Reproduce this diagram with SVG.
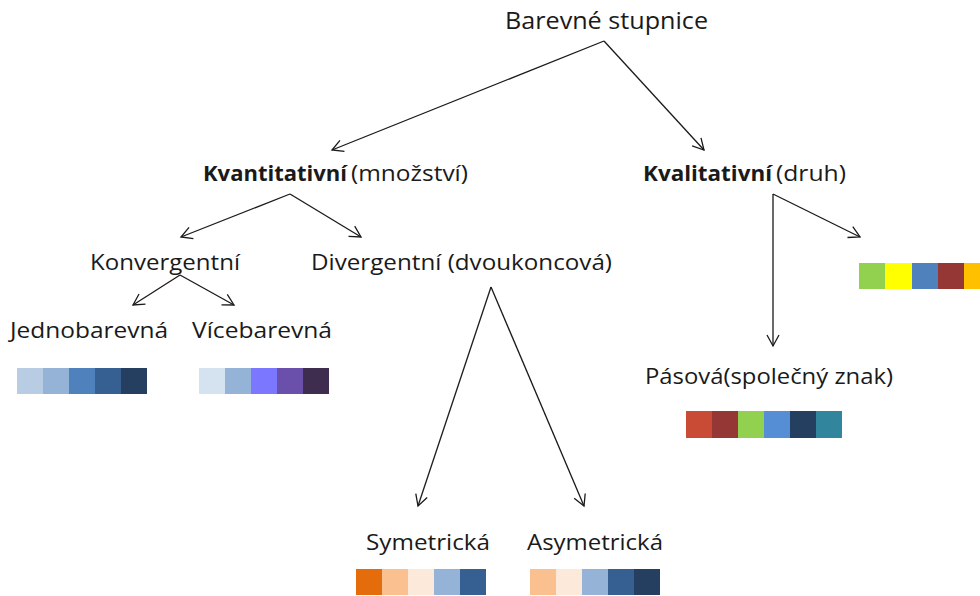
<svg xmlns="http://www.w3.org/2000/svg" width="980" height="596" viewBox="0 0 980 596">
<defs>
<style>
text{font-family:"Open Sans","Noto Sans","Liberation Sans",sans-serif;fill:#1a1a1a;font-size:22px}
.b{font-weight:bold}
.t{font-size:24px}
.c line{stroke:#1a1a1a;stroke-width:1.3;fill:none}
</style>
<marker id="a" markerWidth="14" markerHeight="14" refX="12" refY="7" orient="auto" markerUnits="userSpaceOnUse">
<path d="M1,1 L12,7 L1,13" fill="none" stroke="#1a1a1a" stroke-width="1.3"/>
</marker>
</defs>
<rect width="980" height="596" fill="#fff"/>
<g class="c" id="connectors">
<line x1="604" y1="41" x2="332" y2="150" marker-end="url(#a)"/>
<line x1="604" y1="41" x2="704" y2="150" marker-end="url(#a)"/>
<line x1="290" y1="194" x2="181" y2="237" marker-end="url(#a)"/>
<line x1="290" y1="194" x2="361" y2="237" marker-end="url(#a)"/>
<line x1="180" y1="275" x2="133" y2="305" marker-end="url(#a)"/>
<line x1="180" y1="275" x2="234" y2="305" marker-end="url(#a)"/>
<line x1="491" y1="287" x2="418" y2="506" marker-end="url(#a)"/>
<line x1="491" y1="287" x2="584" y2="506" marker-end="url(#a)"/>
<line x1="773" y1="194" x2="773" y2="346" marker-end="url(#a)"/>
<line x1="773" y1="194" x2="860" y2="237" marker-end="url(#a)"/>
</g>
<g id="root"><text class="t" x="505" y="29" textLength="203" lengthAdjust="spacingAndGlyphs">Barevné stupnice</text></g>
<g id="kvantitativni">
<text class="b" x="203" y="181" textLength="144" lengthAdjust="spacingAndGlyphs">Kvantitativní</text>
<text x="351" y="181" textLength="117" lengthAdjust="spacingAndGlyphs">(množství)</text>
</g>
<g id="kvalitativni">
<text class="b" x="643" y="181" textLength="129" lengthAdjust="spacingAndGlyphs">Kvalitativní</text>
<text x="776" y="181" textLength="70" lengthAdjust="spacingAndGlyphs">(druh)</text>
</g>
<g id="konvergentni"><text x="90" y="270" textLength="150" lengthAdjust="spacingAndGlyphs">Konvergentní</text></g>
<g id="divergentni"><text x="311" y="270" textLength="301" lengthAdjust="spacingAndGlyphs">Divergentní (dvoukoncová)</text></g>
<g id="jednobarevna">
<text x="10" y="338" textLength="158" lengthAdjust="spacingAndGlyphs">Jednobarevná</text>
<rect x="17" y="368" width="26" height="26" fill="#b8cce4"/>
<rect x="43" y="368" width="26" height="26" fill="#95b3d7"/>
<rect x="69" y="368" width="26" height="26" fill="#4f81bd"/>
<rect x="95" y="368" width="26" height="26" fill="#366092"/>
<rect x="121" y="368" width="26" height="26" fill="#243f60"/>
</g>
<g id="vicebarevna">
<text x="192" y="338" textLength="140" lengthAdjust="spacingAndGlyphs">Vícebarevná</text>
<rect x="199" y="368" width="26" height="26" fill="#d5e2f0"/>
<rect x="225" y="368" width="26" height="26" fill="#95b3d7"/>
<rect x="251" y="368" width="26" height="26" fill="#7b78ff"/>
<rect x="277" y="368" width="26" height="26" fill="#6a50aa"/>
<rect x="303" y="368" width="26" height="26" fill="#3f2d4f"/>
</g>
<g id="symetricka">
<text x="366" y="550" textLength="124" lengthAdjust="spacingAndGlyphs">Symetrická</text>
<rect x="356" y="569" width="26" height="26" fill="#e46c0a"/>
<rect x="382" y="569" width="26" height="26" fill="#fac090"/>
<rect x="408" y="569" width="26" height="26" fill="#fde9d9"/>
<rect x="434" y="569" width="26" height="26" fill="#95b3d7"/>
<rect x="460" y="569" width="26" height="26" fill="#366092"/>
</g>
<g id="asymetricka">
<text x="527" y="550" textLength="136" lengthAdjust="spacingAndGlyphs">Asymetrická</text>
<rect x="530" y="569" width="26" height="26" fill="#fac090"/>
<rect x="556" y="569" width="26" height="26" fill="#fde9d9"/>
<rect x="582" y="569" width="26" height="26" fill="#95b3d7"/>
<rect x="608" y="569" width="26" height="26" fill="#366092"/>
<rect x="634" y="569" width="26" height="26" fill="#243f60"/>
</g>
<g id="pasova">
<text x="645" y="384" textLength="248" lengthAdjust="spacingAndGlyphs">Pásová(společný znak)</text>
<rect x="686" y="411" width="26" height="27" fill="#c94a35"/>
<rect x="712" y="411" width="26" height="27" fill="#953735"/>
<rect x="738" y="411" width="26" height="27" fill="#92d050"/>
<rect x="764" y="411" width="26" height="27" fill="#558ed5"/>
<rect x="790" y="411" width="26" height="27" fill="#243f60"/>
<rect x="816" y="411" width="26" height="27" fill="#31859c"/>
</g>
<g id="kvalitativni-swatch">
<rect x="859" y="263" width="26" height="26" fill="#92d050"/>
<rect x="885" y="263" width="27" height="26" fill="#ffff00"/>
<rect x="912" y="263" width="26" height="26" fill="#4f81bd"/>
<rect x="938" y="263" width="26" height="26" fill="#953735"/>
<rect x="964" y="263" width="26" height="26" fill="#ffc000"/>
</g>
</svg>
